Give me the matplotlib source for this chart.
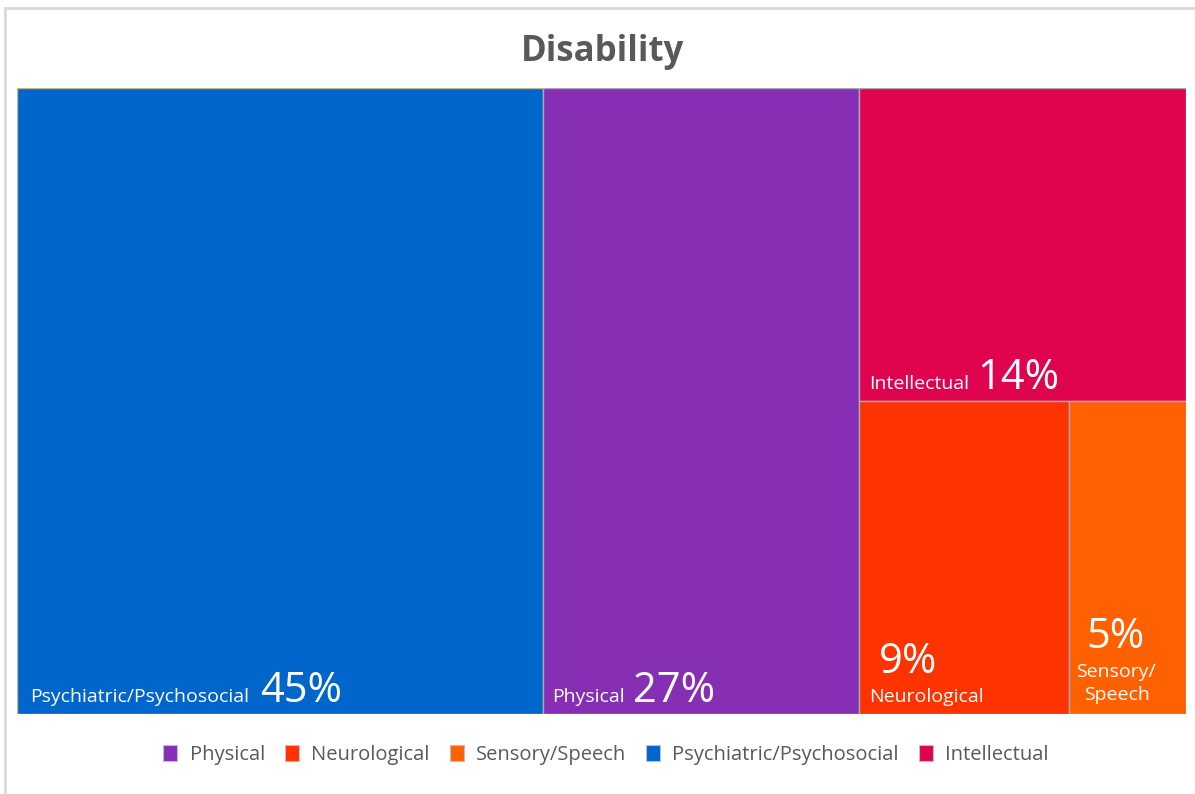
import matplotlib.pyplot as plt
from matplotlib.patches import Rectangle, Patch
from matplotlib.lines import Line2D
import matplotlib.transforms as mtransforms

plt.rcParams['font.family'] = ['Open Sans', 'DejaVu Sans']

# data
names = ['Psychiatric/Psychosocial', 'Physical', 'Intellectual', 'Neurological', 'Sensory/Speech']
values = [45, 27, 14, 9, 5]
colors = ['#0066CC', '#862FB5', '#E0044E', '#FF3300', '#FF6000']
legend_order = ['Physical', 'Neurological', 'Sensory/Speech', 'Psychiatric/Psychosocial', 'Intellectual']

fig = plt.figure(figsize=(11.95, 7.94), dpi=100)
ax = fig.add_axes([17 / 1195, 80 / 794, 1169 / 1195, 626 / 794])
total = sum(values)
ax.set_xlim(0, total)
ax.set_ylim(0, 100)
ax.axis('off')

# slice-and-dice layout: two full-height columns, then a column split
# into a top box and a bottom row of two boxes
v = dict(zip(names, values))
rest = v['Intellectual'] + v['Neurological'] + v['Sensory/Speech']
x2 = v['Psychiatric/Psychosocial'] + v['Physical']
low = v['Neurological'] + v['Sensory/Speech']
ymid = 100 * low / rest
xn = x2 + rest * v['Neurological'] / low
boxes = {
    'Psychiatric/Psychosocial': (0, 0, v['Psychiatric/Psychosocial'], 100),
    'Physical': (v['Psychiatric/Psychosocial'], 0, v['Physical'], 100),
    'Intellectual': (x2, ymid, rest, 100 - ymid),
    'Neurological': (x2, 0, xn - x2, ymid),
    'Sensory/Speech': (xn, 0, total - xn, ymid),
}
col = dict(zip(names, colors))
for n in names:
    x, y, w, h = boxes[n]
    ec = '#c2b98a' if n == 'Psychiatric/Psychosocial' else '#a8a8b8'
    ax.add_patch(Rectangle((x, y), w, h, facecolor=col[n], edgecolor=ec, lw=1))


def put(s, x, y, dx, dy, size, ha='left'):
    tr = mtransforms.offset_copy(ax.transData, fig=fig, x=dx, y=dy, units='dots')
    return ax.text(x, y, s, transform=tr, color='white', fontsize=size,
                   ha=ha, va='baseline')


def name_pct(n, dx, dy, gap, xy):
    x, y = xy
    t = put(n, x, y, dx, dy, 14)
    r = fig.canvas.get_renderer()
    bb = t.get_window_extent(r)
    x0 = ax.transData.transform((x, y))[0]
    put('%d%%' % v[n], x, y, bb.x1 - x0 + gap, dy, 30)


name_pct('Psychiatric/Psychosocial', 13, 12, 11, boxes['Psychiatric/Psychosocial'][:2])
name_pct('Physical', 9, 12, 8, boxes['Physical'][:2])
name_pct('Intellectual', 10, 12, 9, boxes['Intellectual'][:2])

x, y = boxes['Neurological'][:2]
put('Neurological', x, y, 10, 12, 14)
put('%d%%' % v['Neurological'], x, y, 20, 41, 30)

x, y = boxes['Sensory/Speech'][:2]
put('Speech', x, y, 48, 14, 14, ha='center')
put('Sensory/', x, y, 47, 37, 14, ha='center')
put('%d%%' % v['Sensory/Speech'], x, y, 46, 66, 30, ha='center')

fig.text(603 / 1195, 1 - 52 / 794, 'Disability', ha='center', va='center',
         fontsize=25, fontweight='bold', color='#595959')

# chart frame, top and left edges
fig.add_artist(Line2D([5 / 1195, 1], [1 - 8 / 794] * 2, color='#d9d9d9', lw=2))
fig.add_artist(Line2D([5 / 1195] * 2, [0, 1 - 8 / 794], color='#d9d9d9', lw=2))

handles = [Patch(facecolor=col[n], edgecolor='#c0bcd0', lw=0.8) for n in legend_order]
fig.legend(handles, legend_order, loc='center', bbox_to_anchor=(606 / 1195, 1 - 755 / 794),
           ncol=5, frameon=False, fontsize=14.5, labelcolor='#595959',
           handlelength=0.7, handleheight=0.85, handletextpad=0.6, columnspacing=1.0)

fig.savefig('out.png', dpi=100, facecolor='white')
